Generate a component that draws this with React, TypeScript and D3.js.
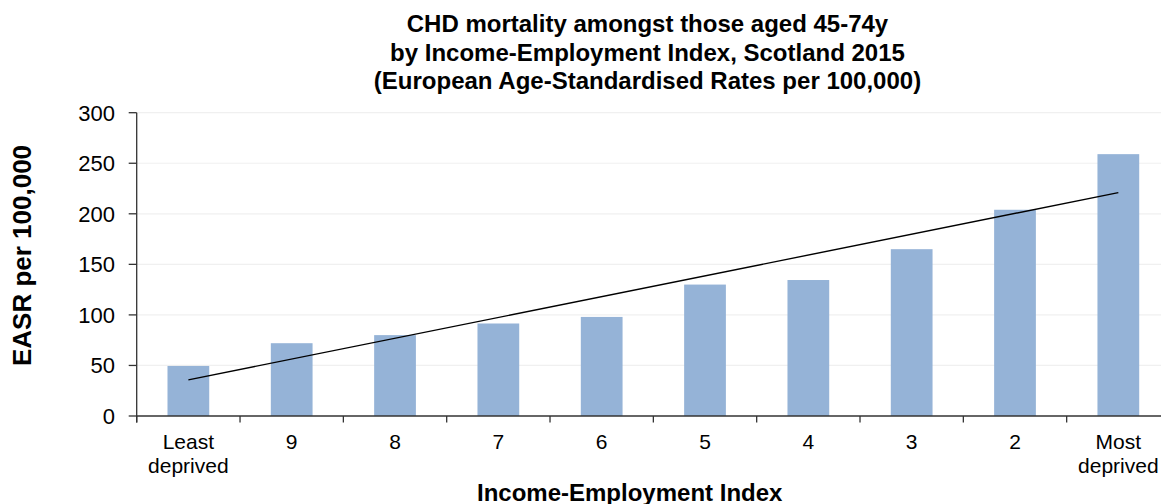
import React from "react";
import * as d3 from "d3";

const titleLines = [
  "CHD mortality amongst those aged 45-74y",
  "by Income-Employment Index, Scotland 2015",
  "(European Age-Standardised Rates per 100,000)",
];
const categories = ["Least\ndeprived", "9", "8", "7", "6", "5", "4", "3", "2", "Most\ndeprived"];
const values = [49.5, 72, 80, 91.5, 98, 130, 134.5, 165, 204, 259];
const yTicks = [0, 50, 100, 150, 200, 250, 300];
const yLabel = "EASR per 100,000";
const xLabel = "Income-Employment Index";

const W = 1161;
const H = 504;
const FONT = "'Liberation Sans', Arial, Helvetica, sans-serif";

export default function App() {
  const left = 136.7;
  const right = left + 1033.3;
  const x = d3.scaleBand<string>().domain(categories).range([left, right]).paddingInner(0).paddingOuter(0);
  const y = d3.scaleLinear().domain([0, 300]).range([416, 112.7]);
  const bw = x.bandwidth() * 0.404;

  // linear trend (least squares) over category index
  const idx = values.map((_, i) => i + 1);
  const mx = d3.mean(idx) as number;
  const my = d3.mean(values) as number;
  const slope =
    d3.sum(idx.map((xi, i) => (xi - mx) * (values[i] - my))) /
    d3.sum(idx.map((xi) => (xi - mx) * (xi - mx)));
  const icpt = my - slope * mx;
  const trend = [1, values.length].map((i) => [
    (x(categories[i - 1]) as number) + x.bandwidth() / 2,
    y(icpt + slope * i),
  ]);
  const line = d3.line();

  const boundaries = d3.range(categories.length + 1).map((i) => left + i * x.bandwidth());

  return (
    <div style={{ position: "absolute", left: 0, top: 0 }}>
      <svg width={W} height={H} style={{ display: "block", background: "#fff" }} fontFamily={FONT}>
        {/* title */}
        {titleLines.map((t, i) => (
          <text key={i} x={647.5} y={32.3 + i * 28.3} textAnchor="middle" fontWeight="bold" fontSize={24} fill="#000">
            {t}
          </text>
        ))}
        {/* gridlines */}
        {yTicks.filter((t) => t > 0).map((t) => (
          <line key={t} x1={left} x2={right} y1={y(t)} y2={y(t)} stroke="#f0f0f0" strokeWidth={1.2} />
        ))}
        {/* bars */}
        {values.map((v, i) => {
          const cx = (x(categories[i]) as number) + x.bandwidth() / 2;
          return (
            <rect key={i} x={cx - bw / 2} y={y(v)} width={bw} height={y(0) - y(v)} fill="#95b3d7" />
          );
        })}
        {/* trend line */}
        <path d={line(trend as [number, number][]) || ""} stroke="#000" strokeWidth={1.4} fill="none" />
        {/* y axis */}
        <line x1={left} x2={left} y1={y(300)} y2={422.5} stroke="#333" strokeWidth={1.3} />
        {yTicks.map((t) => (
          <g key={t}>
            <line x1={left - 8} x2={left} y1={y(t)} y2={y(t)} stroke="#333" strokeWidth={1.3} />
            <text x={115} y={y(t)} dy="0.36em" textAnchor="end" fontSize={22} fill="#000">
              {t}
            </text>
          </g>
        ))}
        {/* x axis */}
        <line x1={left} x2={right} y1={y(0)} y2={y(0)} stroke="#333" strokeWidth={1.3} />
        {boundaries.map((b, i) => (
          <line key={i} x1={b} x2={b} y1={y(0)} y2={422.5} stroke="#333" strokeWidth={1.3} />
        ))}
        {categories.map((c, i) => {
          const cx = (x(c) as number) + x.bandwidth() / 2;
          return (
            <text key={i} x={cx} y={449.3} textAnchor="middle" fontSize={21} fill="#000">
              {c.split("\n").map((s, j) => (
                <tspan key={j} x={cx} dy={j === 0 ? 0 : 23.4}>
                  {s}
                </tspan>
              ))}
            </text>
          );
        })}
        {/* axis titles */}
        <text x={629.7} y={500.7} textAnchor="middle" fontWeight="bold" fontSize={24} fill="#000">
          {xLabel}
        </text>
        <text
          transform={`translate(31,255.5) rotate(-90)`}
          textAnchor="middle"
          fontWeight="bold"
          fontSize={26}
          fill="#000"
        >
          {yLabel}
        </text>
      </svg>
    </div>
  );
}
